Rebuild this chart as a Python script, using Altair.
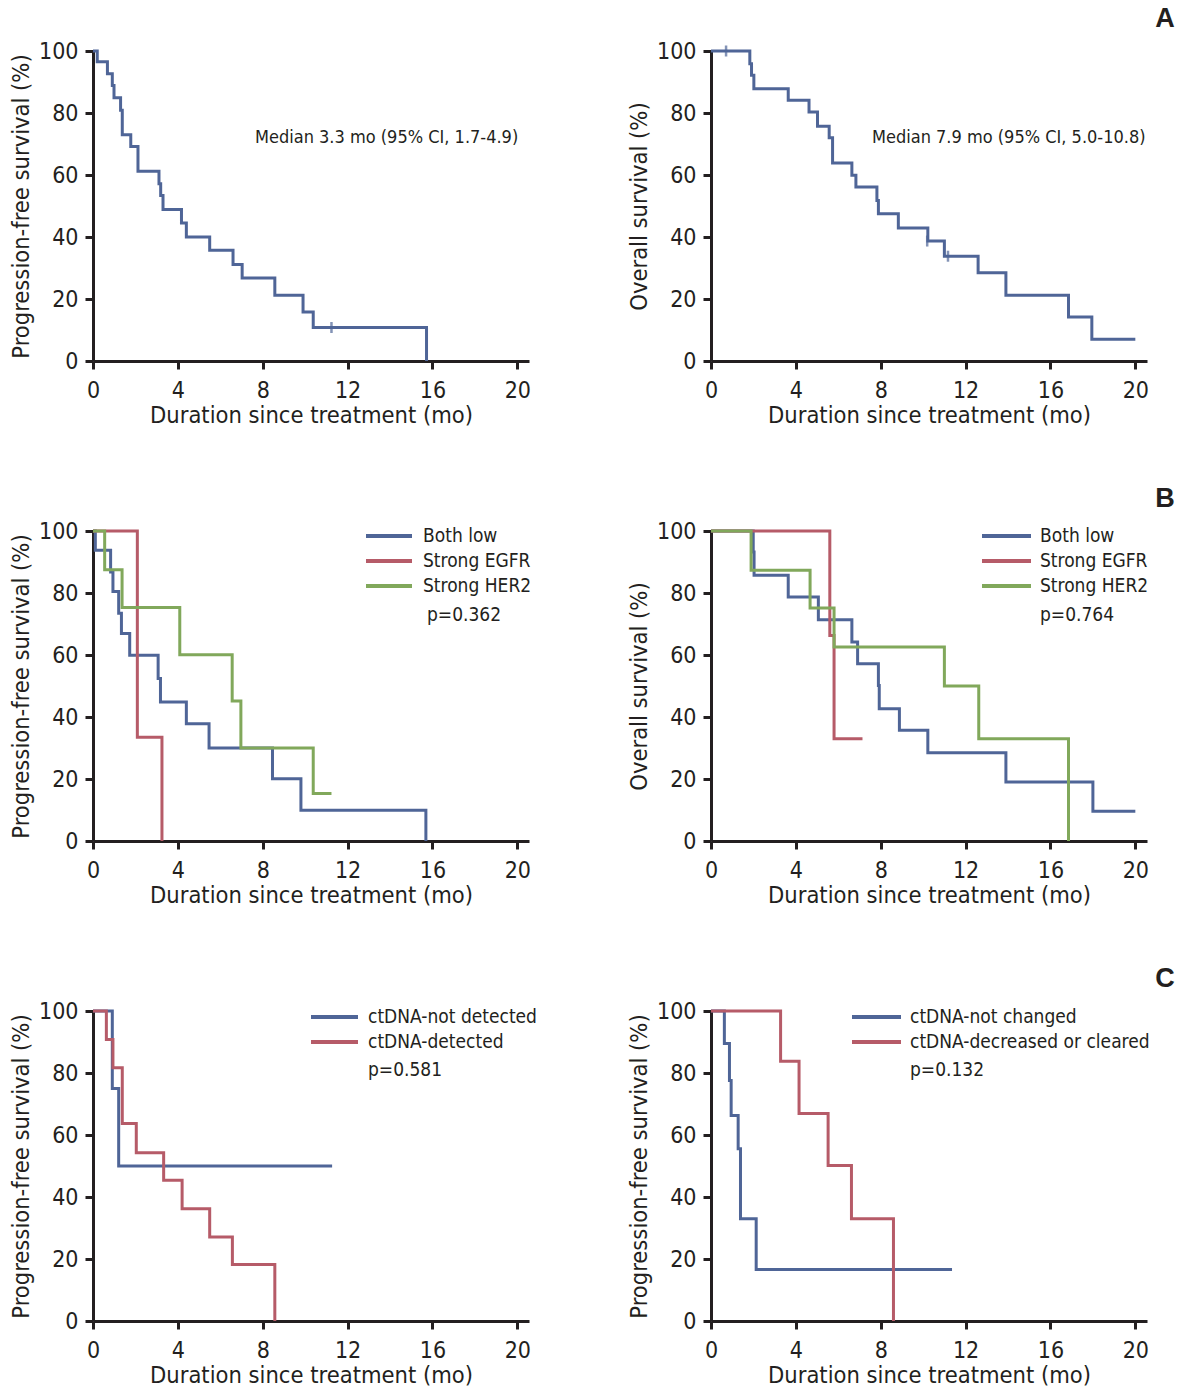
import altair as alt
import pandas as pd

FONT = "DejaVu Sans Condensed, Liberation Sans Narrow, sans-serif"
INK = "#231f20"
BLUE = "#4f6597"
RED = "#b65b68"
GREEN = "#81a85b"

X_TICKS = [0, 4, 8, 12, 16, 20]
Y_TICKS = [0, 20, 40, 60, 80, 100]
X_TITLE = "Duration since treatment (mo)"
PFS_TITLE = "Progression-free survival (%)"
OS_TITLE = "Overall survival (%)"

# ---- Panel A: PFS (all patients)
a_pfs_t = [0, 0.2, 0.68, 0.91, 0.99, 1.3, 1.38, 1.78, 2.12, 3.11, 3.19, 3.3, 4.17, 4.4, 5.5, 6.6, 7.03, 8.57, 9.9, 10.38, 15.72]
a_pfs_s = [100, 96.5, 92.7, 88.9, 84.9, 80.9, 73.0, 69.2, 61.2, 57.2, 53.4, 48.9, 44.5, 40.0, 35.7, 31.1, 26.8, 21.2, 15.8, 10.8, 0]
a_pfs_cens_t = [11.24]
a_pfs_cens_s = [10.8]
a_pfs_note = "Median 3.3 mo (95% CI, 1.7-4.9)"

# ---- Panel A: OS (all patients)
a_os_t = [0, 1.83, 1.91, 2.02, 3.64, 4.62, 5.02, 5.57, 5.73, 6.64, 6.83, 7.82, 7.89, 8.83, 10.22, 11.0, 12.59, 13.9, 16.85, 17.95, 20.0]
a_os_s = [100, 95.9, 92.2, 87.8, 84.1, 80.3, 75.7, 72.0, 63.9, 59.9, 56.1, 51.8, 47.5, 42.9, 38.7, 33.8, 28.5, 21.2, 14.2, 7.0, 7.0]
a_os_cens_t = [0.71, 10.19, 11.17]
a_os_cens_s = [100, 38.7, 33.8]
a_os_note = "Median 7.9 mo (95% CI, 5.0-10.8)"

# ---- Panel B: PFS by EGFR/HER2
b_groups = ["Both low", "Strong EGFR", "Strong HER2"]
b_colors = [BLUE, RED, GREEN]
b_pfs_low_t = [0, 0.11, 0.83, 0.94, 1.21, 1.34, 1.73, 3.07, 3.18, 4.40, 5.47, 8.46, 9.80, 15.69]
b_pfs_low_s = [100, 93.8, 86.8, 80.5, 73.5, 66.9, 59.9, 52.4, 44.8, 37.8, 30.0, 20.1, 9.9, 0]
b_pfs_egfr_t = [0, 2.09, 3.25]
b_pfs_egfr_s = [100, 33.5, 0]
b_pfs_her2_t = [0, 0.55, 1.37, 4.09, 6.56, 6.97, 10.38, 11.24]
b_pfs_her2_s = [100, 87.5, 75.3, 60.1, 45.2, 30.0, 15.3, 15.3]
b_pfs_p = "p=0.362"

# ---- Panel B: OS by EGFR/HER2
b_os_low_t = [0, 1.99, 2.03, 3.64, 5.06, 6.64, 6.91, 7.89, 7.93, 8.88, 10.22, 13.9, 18.0, 20.0]
b_os_low_s = [100, 93.2, 85.7, 78.7, 71.4, 64.2, 57.2, 50.2, 42.7, 35.7, 28.5, 19.0, 9.6, 9.6]
b_os_egfr_t = [0, 5.6, 5.8, 7.14]
b_os_egfr_s = [100, 66.3, 33.0, 33.0]
b_os_her2_t = [0, 1.89, 4.67, 5.8, 11.0, 12.62, 16.85]
b_os_her2_s = [100, 87.3, 75.2, 62.6, 50.0, 33.0, 0]
b_os_p = "p=0.764"

# ---- Panel C: PFS by ctDNA detection
c1_groups = ["ctDNA-not detected", "ctDNA-detected"]
c1_colors = [BLUE, RED]
c1_nd_t = [0, 0.91, 1.21, 11.27]
c1_nd_s = [100, 75.0, 50.0, 50.0]
c1_det_t = [0, 0.63, 0.94, 1.38, 2.04, 3.33, 4.2, 5.5, 6.57, 8.57]
c1_det_s = [100, 90.8, 81.7, 63.7, 54.3, 45.4, 36.2, 27.1, 18.2, 0]
c1_p = "p=0.581"

# ---- Panel C: PFS by ctDNA change
c2_groups = ["ctDNA-not changed", "ctDNA-decreased or cleared"]
c2_colors = [BLUE, RED]
c2_nc_t = [0, 0.63, 0.87, 0.95, 1.28, 1.39, 2.13, 11.36]
c2_nc_s = [100, 89.5, 77.6, 66.3, 55.6, 33.0, 16.6, 16.6]
c2_dc_t = [0, 3.28, 4.15, 5.52, 6.62, 8.6]
c2_dc_s = [100, 83.8, 66.9, 50.2, 33.0, 0]
c2_p = "p=0.132"

panel_letters = ["A", "B", "C"]

W, H = 436, 310
X_DOMAIN = [0, 20.55]
NOTE_SIZE = 18
LEG_SIZE = 19


def curves(series):
    rows = []
    for name, ts, ss in series:
        for i, (t, s) in enumerate(zip(ts, ss)):
            rows.append({"group": name, "t": t, "s": s, "i": i})
    return pd.DataFrame(rows)


def xenc():
    return alt.X("t:Q", scale=alt.Scale(domain=X_DOMAIN, nice=False, zero=False),
                 axis=alt.Axis(values=X_TICKS, title=X_TITLE, labelFlush=False))


def yenc(title):
    return alt.Y("s:Q", scale=alt.Scale(domain=[0, 100], nice=False),
                 axis=alt.Axis(values=Y_TICKS, title=title, labelFlush=False))


def text_layer(label, x, y, size=NOTE_SIZE, weight="normal", align="left", font=FONT):
    return alt.Chart(pd.DataFrame({"label": [label]})).mark_text(
        align=align, baseline="middle", fontSize=size, font=font,
        fontWeight=weight, color=INK
    ).encode(x=alt.value(x), y=alt.value(y), text="label:N")


def legend_layers(groups, colors, x0, x1, xt, y0, pitch):
    out = []
    for k, (g, c) in enumerate(zip(groups, colors)):
        y = y0 + pitch * k
        out.append(alt.Chart(pd.DataFrame({"label": [g]})).mark_rule(
            color=c, strokeWidth=4).encode(
            x=alt.value(x0), x2=alt.value(x1), y=alt.value(y)))
        out.append(text_layer(g, xt, y, size=LEG_SIZE))
    return out


def panel(series, groups, colors, ytitle, extra, censor=None):
    df = curves(series)
    lines = alt.Chart(df).mark_line(interpolate="step-after", strokeWidth=3).encode(
        x=xenc(), y=yenc(ytitle),
        color=alt.Color("group:N", scale=alt.Scale(domain=groups, range=colors), legend=None),
        order=alt.Order("i:Q"),
    )
    layers = [lines]
    if censor is not None:
        cdf = pd.DataFrame({"t": censor[0], "s": censor[1]})
        layers.append(alt.Chart(cdf).mark_tick(
            orient="vertical", size=11, thickness=2.5, color=colors[0]
        ).encode(x=alt.X("t:Q"), y=alt.Y("s:Q")))
    layers += extra
    return alt.layer(*layers).properties(width=W, height=H)


LETTER_FONT = "Liberation Sans, Arial, sans-serif"
LETTER_X, LETTER_Y = 454, -32

p_a1 = panel([("All", a_pfs_t, a_pfs_s)], ["All"], [BLUE], PFS_TITLE,
             [text_layer(a_pfs_note, 162, 87)],
             censor=(a_pfs_cens_t, a_pfs_cens_s))
p_a2 = panel([("All", a_os_t, a_os_s)], ["All"], [BLUE], OS_TITLE,
             [text_layer(a_os_note, 161, 87),
              text_layer(panel_letters[0], LETTER_X, LETTER_Y, size=27, weight="bold",
                         align="center", font=LETTER_FONT)],
             censor=(a_os_cens_t, a_os_cens_s))

p_b1 = panel([(b_groups[0], b_pfs_low_t, b_pfs_low_s),
              (b_groups[1], b_pfs_egfr_t, b_pfs_egfr_s),
              (b_groups[2], b_pfs_her2_t, b_pfs_her2_s)],
             b_groups, b_colors, PFS_TITLE,
             legend_layers(b_groups, b_colors, 273, 319, 330, 5, 25)
             + [text_layer(b_pfs_p, 334, 84, size=LEG_SIZE)])
p_b2 = panel([(b_groups[0], b_os_low_t, b_os_low_s),
              (b_groups[1], b_os_egfr_t, b_os_egfr_s),
              (b_groups[2], b_os_her2_t, b_os_her2_s)],
             b_groups, b_colors, OS_TITLE,
             legend_layers(b_groups, b_colors, 271, 320, 329, 5, 25)
             + [text_layer(b_os_p, 329, 84, size=LEG_SIZE),
                text_layer(panel_letters[1], LETTER_X, LETTER_Y, size=27, weight="bold",
                           align="center", font=LETTER_FONT)])

p_c1 = panel([(c1_groups[0], c1_nd_t, c1_nd_s),
              (c1_groups[1], c1_det_t, c1_det_s)],
             c1_groups, c1_colors, PFS_TITLE,
             legend_layers(c1_groups, c1_colors, 218, 265, 275, 6, 25)
             + [text_layer(c1_p, 275, 59, size=LEG_SIZE)])
p_c2 = panel([(c2_groups[0], c2_nc_t, c2_nc_s),
              (c2_groups[1], c2_dc_t, c2_dc_s)],
             c2_groups, c2_colors, PFS_TITLE,
             legend_layers(c2_groups, c2_colors, 141, 190, 199, 6, 25)
             + [text_layer(c2_p, 199, 59, size=LEG_SIZE),
                text_layer(panel_letters[2], LETTER_X, LETTER_Y, size=27, weight="bold",
                           align="center", font=LETTER_FONT)])

chart = alt.concat(p_a1, p_a2, p_b1, p_b2, p_c1, p_c2, columns=2,
                   spacing=alt.RowColnumber(row=170, column=182),
                   bounds="flush").resolve_scale(color="independent")

chart = chart.properties(
    padding={"left": 1, "top": -3, "right": 0, "bottom": 0},
    background="white",
).configure_view(stroke=None).configure_axis(
    grid=False,
    domainColor=INK, domainWidth=3,
    tickColor=INK, tickWidth=3, tickSize=8,
    labelFont=FONT, labelFontSize=23, labelColor=INK,
    titleFont=FONT, titleFontSize=23.5, titleColor=INK, titleFontWeight="normal",
).configure_axisX(labelPadding=10, titlePadding=1).configure_axisY(labelPadding=7, titlePadding=5)

chart.save("out.html", embed_options={"renderer": "svg", "actions": False})
